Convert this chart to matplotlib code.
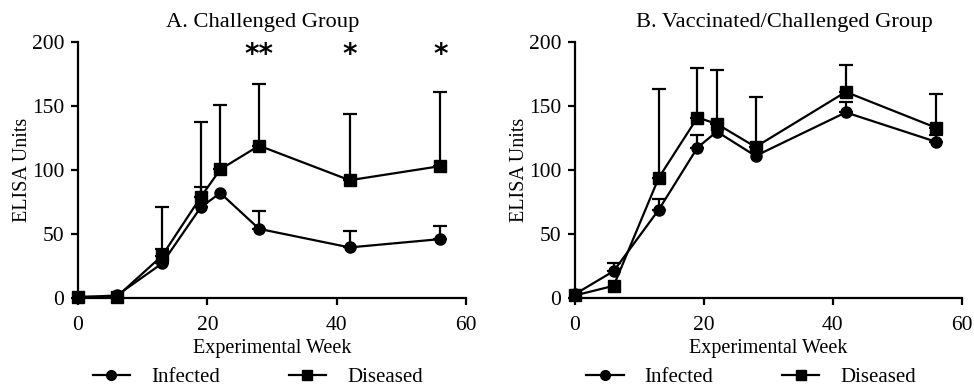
import numpy as np
import matplotlib.pyplot as plt

plt.rcParams['font.family'] = ['Liberation Serif', 'DejaVu Serif']

weeks = [0, 6, 13, 19, 22, 28, 42, 56]

# A. Challenged group
a_infected = [0.5, 2, 27, 71, 82, 54, 39.5, 46]
a_infected_err = [0, 0, 11, 16, 0, 14, 12.5, 10]
a_diseased = [1, 1, 33, 79, 100.5, 119, 92, 103]
a_diseased_err = [0, 0, 38, 58.6, 50.5, 48, 52, 58]

# B. Vaccinated/challenged group
b_infected = [3, 21, 69, 117.5, 130, 111, 145, 122]
b_infected_err = [0, 6, 8.5, 9.5, 0, 0, 8, 5]
b_diseased = [2, 9.5, 94, 141, 136, 118, 161, 133]
b_diseased_err = [0, 0, 69, 39, 42, 39, 21, 26]

# significance marks on panel A
stars = ['**', '*', '*']
star_weeks = [28, 42, 56]

titles = ['A. Challenged Group', 'B. Vaccinated/Challenged Group']
title_x = [0.477, 0.54]
legend_x = [0.463, 0.455]


def draw_series(ax, y, err, marker):
    x = np.array(weeks, dtype=float)
    y = np.array(y, dtype=float)
    err = np.array(err, dtype=float)
    ax.plot(x, y, color='black', lw=1.6, marker=marker, ms=8 if marker == 'o' else 8.5,
            zorder=3, clip_on=False)
    m = err > 0
    ax.errorbar(x[m], y[m], yerr=[np.zeros(m.sum()), err[m]], fmt='none',
                ecolor='black', elinewidth=1.6, capsize=5, capthick=1.6, zorder=2)


def style_axes(ax, title, tx):
    ax.set_xlim(0, 60)
    ax.set_ylim(0, 200)
    ax.set_xticks([0, 20, 40, 60])
    ax.set_yticks([0, 50, 100, 150, 200])
    ax.spines['top'].set_visible(False)
    ax.spines['right'].set_visible(False)
    ax.spines['left'].set_linewidth(1.6)
    ax.spines['bottom'].set_linewidth(1.6)
    ax.tick_params(direction='out', length=5, width=1.6, labelsize=15.5)
    ax.tick_params(axis='x', pad=8)
    ax.tick_params(axis='y', pad=5)
    ax.set_title(title, fontsize=16.2, pad=11, x=tx)
    ax.set_xlabel('Experimental Week', fontsize=14.5, labelpad=3)
    ax.set_ylabel('ELISA Units', fontsize=14.5, labelpad=0)


fig = plt.figure(figsize=(9.74, 3.87), dpi=100)
ax_a = fig.add_axes([0.0801, 0.2300, 0.3984, 0.6615])
ax_b = fig.add_axes([0.5903, 0.2300, 0.3973, 0.6615])

draw_series(ax_a, a_infected, a_infected_err, 'o')
draw_series(ax_a, a_diseased, a_diseased_err, 's')
draw_series(ax_b, b_infected, b_infected_err, 'o')
draw_series(ax_b, b_diseased, b_diseased_err, 's')

for ax, t, tx in zip((ax_a, ax_b), titles, title_x):
    style_axes(ax, t, tx)

for s, w in zip(stars, star_weeks):
    ax_a.text(w, 190, s, ha='center', va='center', fontsize=20,
              fontweight='bold', family='DejaVu Sans')

# legends below each panel
for ax, lx in zip((ax_a, ax_b), legend_x):
    h_inf = plt.Line2D([], [], color='black', lw=1.6, marker='o', ms=7)
    h_dis = plt.Line2D([], [], color='black', lw=1.6, marker='s', ms=7)
    ax.legend([h_inf, h_dis], ['Infected', 'Diseased'], loc='center',
              bbox_to_anchor=(lx, -0.31), ncol=2, frameon=False, fontsize=15,
              handlelength=1.8, columnspacing=3.3, handletextpad=1.0,
              borderpad=0.0, borderaxespad=0.0)

fig.savefig('out.png', dpi=100)
